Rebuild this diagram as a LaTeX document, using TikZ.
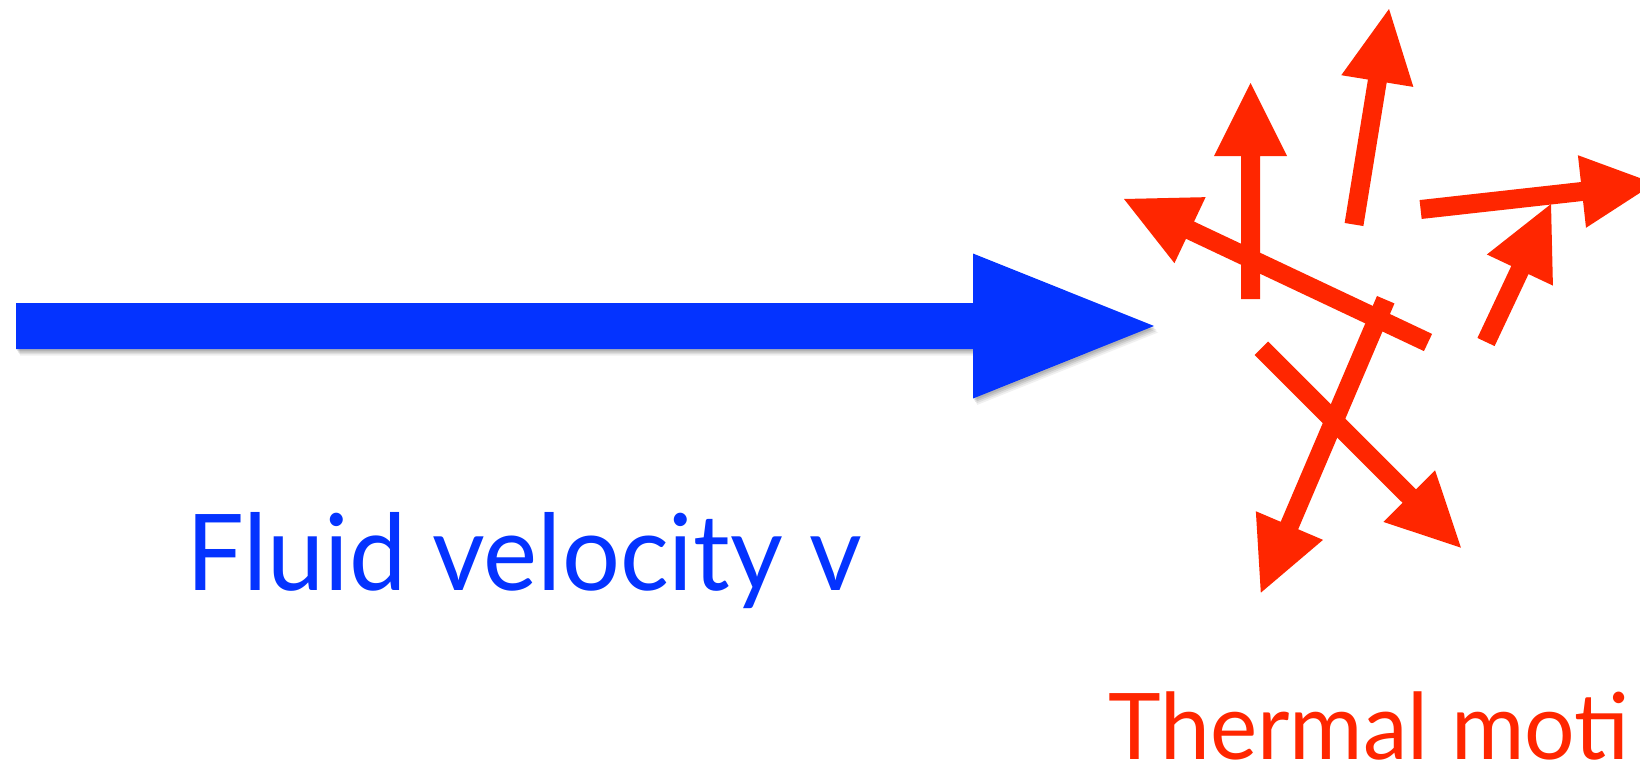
\documentclass[tikz,border=0pt]{standalone}
\usepackage{fontspec}
\setmainfont{Lato}
\usetikzlibrary{calc}

\definecolor{flowblue}{HTML}{0433FF}
\definecolor{thermalred}{HTML}{FF2600}

% Block arrow from a named tail to a named tip:
% #1 style, #2 tail, #3 tip, #4 half shaft width, #5 head length, #6 half head width
\newcommand\blockarrow[6]{%
  \coordinate (#2b) at ($(#3)!#5!(#2)$);
  \fill[#1] ($(#2)!#4!90:(#3)$) -- ($(#2b)!#4!90:(#3)$) -- ($(#2b)!#6!90:(#3)$)
    -- (#3) -- ($(#2b)!#6!-90:(#3)$) -- ($(#2b)!#4!-90:(#3)$)
    -- ($(#2)!#4!-90:(#3)$) -- cycle;
}

\tikzset{
  fluidarrow/.style={fill=flowblue,
    preaction={fill=black, opacity=.10, transform canvas={shift={(1pt,-2pt)}}},
    preaction={fill=black, opacity=.10, transform canvas={shift={(2pt,-3.5pt)}}},
    preaction={fill=black, opacity=.08, transform canvas={shift={(3pt,-5pt)}}},
    preaction={fill=black, opacity=.06, transform canvas={shift={(4pt,-6.5pt)}}}},
  thermalarrow/.style={fill=thermalred},
  fluidlabel/.style={text=flowblue, inner sep=0pt, font=\fontsize{106}{120}\selectfont},
  thermallabel/.style={text=thermalred, inner sep=0pt, font=\fontsize{92}{110}\selectfont},
}

\begin{document}
\begin{tikzpicture}[x=1pt, y=-1pt]
  \useasboundingbox (0,0) rectangle (1640,763);
  \clip (0,0) rectangle (1640,763);

  % bulk flow
  \coordinate (vtail) at (16,326);
  \coordinate (vtip) at (1154,326);
  \blockarrow{fluidarrow}{vtail}{vtip}{23pt}{181pt}{72.5pt}

  % random thermal velocities
  \coordinate (atail) at (1250.5,299);   \coordinate (atip) at (1250.5,83);
  \coordinate (btail) at (1354,224.5);   \coordinate (btip) at (1389,9);
  \coordinate (ctail) at (1428,342.5);   \coordinate (ctip) at (1124,199);
  \coordinate (dtail) at (1420.6,209.5); \coordinate (dtip) at (1654.5,183.4);
  \coordinate (etail) at (1486,342);     \coordinate (etip) at (1551,204);
  \coordinate (ftail) at (1385.7,299.7); \coordinate (ftip) at (1260.8,592.7);
  \coordinate (gtail) at (1261.4,348.3); \coordinate (gtip) at (1460.9,547.7);
  \foreach \m in {a,b,c,d,e,f,g}{
    \blockarrow{thermalarrow}{\m tail}{\m tip}{9.5pt}{73pt}{36.5pt}
  }

  % labels
  \node[fluidlabel, anchor=base west] (fluid) at (186,590)
    {\scalebox{0.965}[1]{Fluid velocity v}};
  \node[thermallabel, anchor=base west] (thermal) at (1108,759)
    {\scalebox{0.97}[1]{Thermal moti}};
\end{tikzpicture}
\end{document}
